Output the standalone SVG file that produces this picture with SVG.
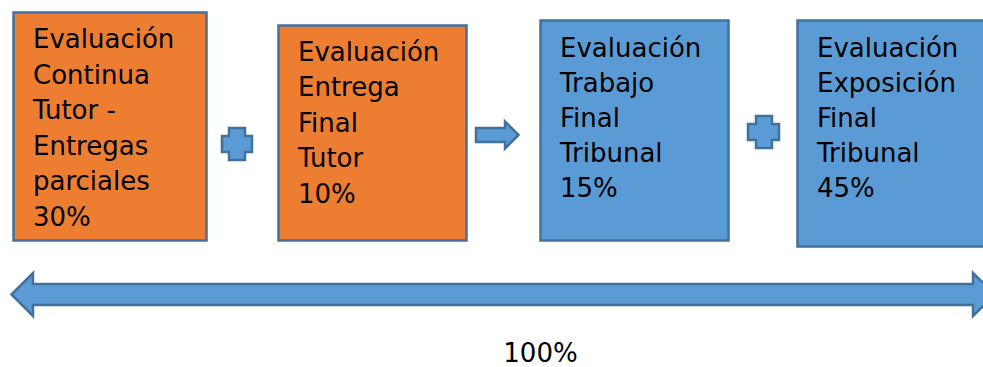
<svg xmlns="http://www.w3.org/2000/svg" width="983" height="367" viewBox="0 0 983 367">
<style>
.orange{fill:#ED7D31;stroke:#41719C;stroke-width:2.5}
.blue{fill:#5B9BD5;stroke:#41719C;stroke-width:2.5}
.shape{fill:#5B9BD5;stroke:#41719C;stroke-width:2.5;stroke-linejoin:miter}
text{font-family:"DejaVu Sans","Verdana",sans-serif;font-size:26px;fill:#000}
</style>
<rect width="983" height="367" fill="#fff"/>
<g id="node1">
<rect class="orange" x="13.5" y="12.5" width="193" height="228"/>
<text x="33"><tspan x="33" y="48">Evaluación</tspan><tspan x="33" y="83.5">Continua</tspan><tspan x="33" y="119">Tutor -</tspan><tspan x="33" y="154.5">Entregas</tspan><tspan x="33" y="190">parciales</tspan><tspan x="33" y="225.5">30%</tspan></text>
</g>
<g id="node2">
<rect class="orange" x="278.5" y="25.5" width="188" height="215"/>
<text x="298"><tspan x="298" y="60.5">Evaluación</tspan><tspan x="298" y="96">Entrega</tspan><tspan x="298" y="131.5">Final</tspan><tspan x="298" y="167">Tutor</tspan><tspan x="298" y="202.5">10%</tspan></text>
</g>
<g id="node3">
<rect class="blue" x="540.5" y="20.5" width="188" height="220"/>
<text x="560"><tspan x="560" y="56.5">Evaluación</tspan><tspan x="560" y="91.5">Trabajo</tspan><tspan x="560" y="126.5">Final</tspan><tspan x="560" y="161.5">Tribunal</tspan><tspan x="560" y="196.5">15%</tspan></text>
</g>
<g id="node4">
<rect class="blue" x="797.5" y="20.5" width="200" height="226"/>
<text x="817"><tspan x="817" y="56.5">Evaluación</tspan><tspan x="817" y="91.5">Exposición</tspan><tspan x="817" y="126.5">Final</tspan><tspan x="817" y="161.5">Tribunal</tspan><tspan x="817" y="196.5">45%</tspan></text>
</g>
<g id="connectors">
<path class="shape" d="M229,128 H245 V136 H252 V152 H245 V160 H229 V152 H222 V136 H229 Z"/>
<path class="shape" d="M476,128 H505 V121.5 L518.5,135 L505,148.5 V142 H476 Z"/>
<path class="shape" d="M756,116 H772 V124 H779 V140 H772 V148 H756 V140 H748 V124 H756 Z"/>
<path class="shape" d="M11.5,294.5 L33,273 V284 H973 V273 L995,294.5 L973,316 V305 H33 V316 Z"/>
</g>
<text x="540.5" y="362" text-anchor="middle">100%</text>
</svg>
